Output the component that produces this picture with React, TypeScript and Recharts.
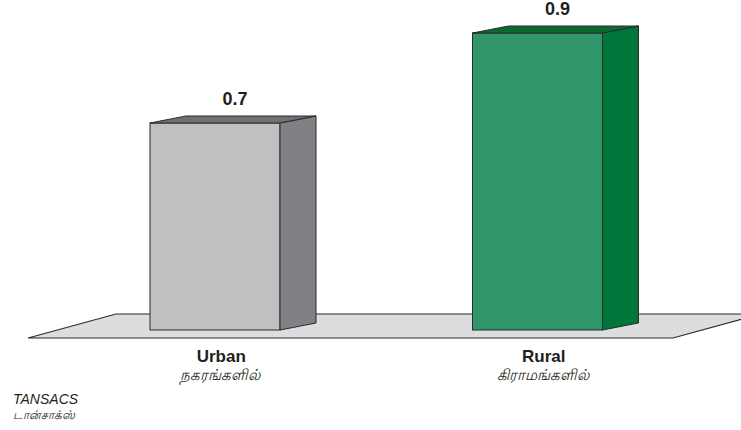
import React from "react";
import { Bar, BarChart, Cell, LabelList, ReferenceArea, XAxis, YAxis } from "recharts";

const categories = ["Urban", "Rural"];
const tamilLabels = ["நகரங்களில்", "கிராமங்களில்"];
const values = [0.7, 0.9];

const frontColors = ["#bfc0c2", "#31956a"];
const sideColors = ["#808184", "#00773a"];
const topColors = ["#6f7073", "#0a6a34"];

const DEPTH_X = 36;
const DEPTH_Y = 7;
const FONT = "'Liberation Sans', Arial, sans-serif";

const data = categories.map((name, i) => ({ name, value: values[i], idx: i }));

function Bar3D(props: any) {
  const { x, y, width, height, payload } = props;
  const i = payload.idx;
  const stroke = "#2b2b2b";
  return (
    <g>
      <rect x={x} y={y} width={width} height={height} fill={frontColors[i]} stroke={stroke} strokeWidth={1} />
      <polygon
        points={`${x + width},${y} ${x + width + DEPTH_X},${y - DEPTH_Y} ${x + width + DEPTH_X},${y + height - DEPTH_Y} ${x + width},${y + height}`}
        fill={sideColors[i]}
        stroke={stroke}
        strokeWidth={1}
      />
      <polygon
        points={`${x},${y} ${x + DEPTH_X},${y - DEPTH_Y} ${x + width + DEPTH_X},${y - DEPTH_Y} ${x + width},${y}`}
        fill={topColors[i]}
        stroke={stroke}
        strokeWidth={1}
      />
    </g>
  );
}

// floor plane under the bars, skewed like the reference
function Floor(props: any) {
  const { x, y, width, height } = props;
  const bottom = y + height;
  const pts = [
    [x - 26, bottom + 8],
    [x + 62, bottom - 16],
    [x + width + 62, bottom - 16],
    [x + width - 26, bottom + 8]
  ];
  return (
    <polygon
      points={pts.map((p) => p.join(",")).join(" ")}
      fill="#dcdddf"
      stroke="#2b2b2b"
      strokeWidth={1.2}
    />
  );
}

function CategoryTick(props: any) {
  const { x, y, payload } = props;
  const i = categories.indexOf(payload.value);
  return (
    <g>
      <text x={x + 6} y={y + 24} textAnchor="middle" fontFamily={FONT} fontWeight="bold" fontSize={17} fill="#231f20">
        {payload.value}
      </text>
      <text x={x + 5} y={y + 42} textAnchor="middle" fontFamily={FONT} fontStyle="italic" fontSize={15} fill="#231f20">
        {tamilLabels[i]}
      </text>
    </g>
  );
}

function ValueLabel(props: any) {
  const { x, y, width, value } = props;
  return (
    <text
      x={x + width / 2 + 20}
      y={y - 18}
      textAnchor="middle"
      fontFamily={FONT}
      fontWeight="bold"
      fontSize={18}
      fill="#231f20"
    >
      {value}
    </text>
  );
}

export default function App() {
  return (
    <div style={{ position: "absolute", left: 0, top: 0, width: 741, height: 430, background: "#fff" }}>
      <BarChart width={741} height={430} data={data} margin={{ top: 33, right: 42, left: 54, bottom: 70 }} barSize={130}>
        <YAxis hide domain={[0.24, 0.9]} />
        <XAxis dataKey="name" height={30} axisLine={false} tickLine={false} tick={<CategoryTick />} interval={0} />
        <ReferenceArea y1={0.24} y2={0.3} ifOverflow="visible" shape={<Floor />} />
        <Bar dataKey="value" shape={<Bar3D />} isAnimationActive={false}>
          {data.map((d, i) => (
            <Cell key={d.name} fill={frontColors[i]} />
          ))}
          <LabelList dataKey="value" content={<ValueLabel />} />
        </Bar>
      </BarChart>
      <div style={{ position: "absolute", left: 13, top: 391, fontFamily: FONT, fontStyle: "italic", fontSize: 14, color: "#231f20", lineHeight: "16px" }}>
        TANSACS
      </div>
      <div style={{ position: "absolute", left: 13, top: 408, fontFamily: FONT, fontStyle: "italic", fontSize: 12, color: "#231f20", lineHeight: "14px" }}>
        டான்சாக்ஸ்
      </div>
    </div>
  );
}
